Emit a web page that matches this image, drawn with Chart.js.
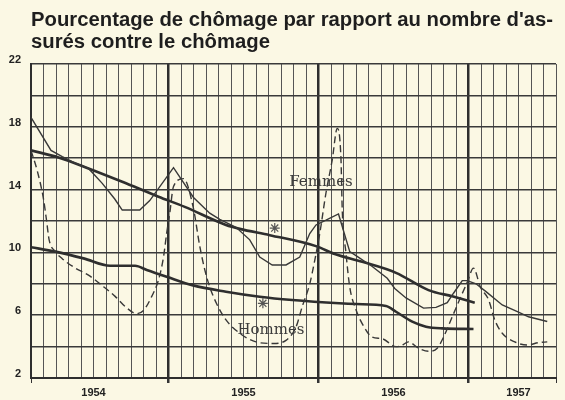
<!DOCTYPE html>
<html lang="fr">
<head>
    <meta charset="UTF-8">
    <script src="https://cdn.jsdelivr.net/npm/chart.js@4.4.0/dist/chart.umd.min.js"></script>
    <title>Chômage</title>
    <style>
        body { margin: 0; background: #fbf8e4; }
    </style>
</head>
<body>
    <canvas id="chart" width="565" height="400"></canvas>

    <script>
        // months counted from the left edge of the chart (Feb 1954 = 0)
        const yearLabels = ['1954', '1955', '1956', '1957'];
        const yearLabelMonths = [5, 17, 29, 39];
        const yearBoundaries = [11, 23, 35];
        const yTickLabels = [2, 6, 10, 14, 18, 22];

        // Femmes, monthly curve (thin line)
        const femmesMonths = [0, 1.6, 2.5, 3.5, 4.6, 5.7, 6.7, 7.3, 8.7, 9.5, 11.4, 13.0, 14.3, 15.1, 16.4, 17.5, 18.3, 19.3, 20.4, 21.5, 22.3, 22.8, 23.6, 24.6, 25.5, 26.0, 27.3, 28.5, 29.1, 30.0, 31.4, 32.4, 33.3, 33.8, 34.5, 34.9, 35.6, 36.4, 37.7, 39.0, 39.8, 41.3];
        const femmesPct = [18.6, 16.5, 16.1, 15.7, 15.35, 14.4, 13.4, 12.7, 12.7, 13.3, 15.4, 13.5, 12.5, 12.1, 11.6, 10.8, 9.7, 9.2, 9.2, 9.7, 11.2, 11.75, 12.05, 12.45, 10.05, 9.8, 9.1, 8.35, 7.7, 7.1, 6.45, 6.5, 6.8, 7.4, 8.2, 8.2, 8.0, 7.5, 6.65, 6.2, 5.9, 5.6];

        // Hommes, monthly curve (dashed)
        const hommesMonths = [0, 0.5, 1.0, 1.25, 1.45, 1.95, 2.5, 3.55, 4.6, 5.67, 6.73, 7.53, 8.46, 9.0, 9.66, 10.2, 10.6, 10.85, 11.1, 11.4, 12.2, 12.97, 13.5, 13.9, 14.3, 14.84, 15.6, 16.7, 18.0, 19.35, 20.4, 21.2, 21.7, 22.3, 22.7, 23.1, 23.6, 24.1, 24.5, 24.8, 24.9, 25.2, 25.5, 26.0, 26.65, 27.3, 28.1, 29.2, 29.6, 30.2, 31.0, 31.8, 32.5, 33.0, 33.7, 34.4, 34.9, 35.4, 35.95, 36.6, 37.1, 37.7, 38.7, 39.7, 40.6, 41.3];
        const hommesPct = [16.5, 15.2, 13.4, 12.0, 10.8, 10.05, 9.6, 9.0, 8.55, 7.9, 7.2, 6.55, 6.1, 6.3, 7.2, 8.25, 9.7, 11.2, 12.5, 14.2, 14.7, 12.9, 10.4, 8.9, 7.8, 6.75, 5.7, 4.85, 4.3, 4.2, 4.4, 5.25, 6.55, 8.0, 9.5, 11.2, 13.8, 15.9, 17.9, 15.9, 12.7, 9.95, 7.8, 6.35, 5.25, 4.6, 4.5, 4.0, 4.05, 4.3, 3.9, 3.7, 3.9, 4.6, 5.9, 7.2, 8.1, 9.0, 7.8, 7.0, 5.7, 4.85, 4.3, 4.1, 4.25, 4.3];

        // trends (thick lines)
        const femmesTrendMonths = [0, 2.2, 4.6, 7.3, 10.2, 12.3, 15.6, 16.7, 19.1, 22.8, 24.3, 26.5, 29.2, 31.8, 33.7, 35.5];
        const femmesTrendPct = [16.5, 16.05, 15.35, 14.5, 13.55, 12.9, 11.75, 11.5, 11.1, 10.4, 9.9, 9.4, 8.7, 7.6, 7.2, 6.8];
        const hommesTrendMonths = [0, 1.95, 4.2, 6.33, 8.33, 9.26, 10.85, 12.97, 15.6, 18.3, 20.9, 24.66, 26.0, 28.4, 29.2, 30.5, 31.6, 32.9, 35.4];
        const hommesTrendPct = [10.33, 10.05, 9.62, 9.15, 9.15, 8.88, 8.45, 7.9, 7.5, 7.18, 6.97, 6.76, 6.71, 6.59, 6.22, 5.59, 5.27, 5.16, 5.12];

        // the two asterisks
        const starMonths = [19.5, 18.55];
        const starPct = [11.55, 6.76];

        const ink = '#383838';
        const paper = '#fbf8e4';

        function points(xs, ys) {
            return xs.map((x, i) => ({ x: x, y: ys[i] }));
        }

        // cream paper behind everything
        const paperPlugin = {
            id: 'paper',
            beforeDraw(chart) {
                const c = chart.ctx;
                c.save();
                c.fillStyle = paper;
                c.fillRect(0, 0, chart.width, chart.height);
                c.restore();
            }
        };

        // "Femmes" / "Hommes" written on the plot
        const namesPlugin = {
            id: 'names',
            afterDatasetsDraw(chart) {
                const c = chart.ctx;
                const xs = chart.scales.x, ys = chart.scales.y;
                c.save();
                c.font = '15px "DejaVu Serif"';
                c.fillStyle = '#3c3c3c';
                c.textAlign = 'center';
                c.textBaseline = 'middle';
                c.fillText('Femmes', xs.getPixelForValue(23.2), ys.getPixelForValue(14.5));
                c.fillText('Hommes', xs.getPixelForValue(19.2), ys.getPixelForValue(5.06));
                c.restore();
            }
        };

        const ctx = document.getElementById('chart').getContext('2d');
        new Chart(ctx, {
            type: 'line',
            data: {
                datasets: [
                    {
                        label: 'Femmes',
                        data: points(femmesMonths, femmesPct),
                        borderColor: ink, borderWidth: 1.4, pointRadius: 0
                    },
                    {
                        label: 'Hommes',
                        data: points(hommesMonths, hommesPct),
                        borderColor: ink, borderWidth: 1.4, borderDash: [7, 4], pointRadius: 0,
                        cubicInterpolationMode: 'monotone'
                    },
                    {
                        label: 'Femmes tendance',
                        data: points(femmesTrendMonths, femmesTrendPct),
                        borderColor: '#2e2e2e', borderWidth: 2.6, pointRadius: 0,
                        cubicInterpolationMode: 'monotone'
                    },
                    {
                        label: 'Hommes tendance',
                        data: points(hommesTrendMonths, hommesTrendPct),
                        borderColor: '#2e2e2e', borderWidth: 2.6, pointRadius: 0,
                        cubicInterpolationMode: 'monotone'
                    },
                    {
                        label: 'repères',
                        data: points(starMonths, starPct),
                        showLine: false,
                        pointStyle: 'star', pointRadius: 5,
                        borderColor: '#555', borderWidth: 1.2
                    }
                ]
            },
            options: {
                responsive: false,
                animation: false,
                layout: { padding: { left: 0, right: 9, top: 0, bottom: 0 } },
                plugins: {
                    legend: { display: false },
                    tooltip: { enabled: false },
                    title: {
                        display: true,
                        fullSize: false,
                        align: 'start',
                        text: ["Pourcentage de chômage par rapport au nombre d'as-", 'surés contre le chômage'],
                        color: '#1e1e1e',
                        font: { family: '"Liberation Sans"', size: 20.3, weight: 'bold', lineHeight: 1.06 },
                        padding: { top: 10, bottom: 11 }
                    }
                },
                scales: {
                    x: {
                        type: 'linear',
                        min: 0,
                        max: 42,
                        afterFit: s => { s.height = 22; },
                        ticks: {
                            stepSize: 1,
                            autoSkip: false,
                            maxRotation: 0,
                            padding: 3,
                            color: '#222',
                            font: { family: '"Liberation Sans"', size: 11, weight: 'bold' },
                            callback: v => {
                                const i = yearLabelMonths.indexOf(v);
                                return i >= 0 ? yearLabels[i] : '';
                            }
                        },
                        grid: {
                            color: c => yearBoundaries.includes(c.tick.value) ? '#2e2e2e' : '#555',
                            lineWidth: c => yearBoundaries.includes(c.tick.value) ? 2.5 : 1,
                            tickLength: 5,
                            tickColor: c => (yearBoundaries.includes(c.tick.value) || c.tick.value === 0 || c.tick.value === 42) ? '#333' : 'rgba(0,0,0,0)'
                        },
                        border: { color: '#2e2e2e', width: 2 }
                    },
                    y: {
                        min: 2,
                        max: 22,
                        afterFit: s => { s.width = 31; },
                        ticks: {
                            stepSize: 2,
                            padding: 10,
                            labelOffset: -4,
                            color: '#222',
                            font: { family: '"Liberation Sans"', size: 11, weight: 'bold' },
                            callback: v => yTickLabels.includes(v) ? v : ''
                        },
                        grid: { color: '#3a3a3a', lineWidth: 1.5, drawTicks: false },
                        border: { color: '#2e2e2e', width: 2 }
                    }
                }
            },
            plugins: [paperPlugin, namesPlugin]
        });
    </script>
</body>
</html>
